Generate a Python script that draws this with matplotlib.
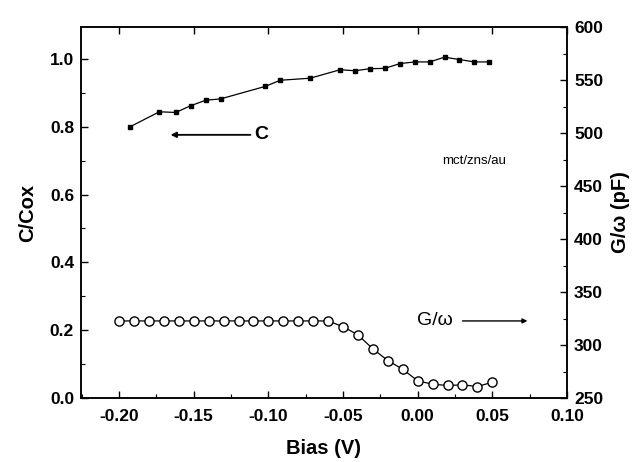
import matplotlib
matplotlib.use("Agg")
import matplotlib.pyplot as plt
from matplotlib.ticker import MultipleLocator, FormatStrFormatter

plt.rcParams['font.family'] = ['Liberation Sans', 'DejaVu Sans']
plt.rcParams['font.weight'] = 'bold'

# C/Cox data (filled squares, left axis)
bias_c = [-0.193, -0.173, -0.162, -0.152, -0.142, -0.132, -0.102, -0.092, -0.072,
          -0.052, -0.042, -0.032, -0.022, -0.012, -0.002, 0.008, 0.018, 0.028, 0.038, 0.048]
c_cox = [0.799, 0.844, 0.842, 0.862, 0.878, 0.882, 0.919, 0.937, 0.943,
         0.968, 0.965, 0.971, 0.972, 0.986, 0.991, 0.991, 1.005, 0.998, 0.991, 0.991]

# G/omega data (open circles, right axis, pF)
bias_g = [-0.20, -0.19, -0.18, -0.17, -0.16, -0.15, -0.14, -0.13, -0.12, -0.11, -0.10,
          -0.09, -0.08, -0.07, -0.06, -0.05, -0.04, -0.03, -0.02, -0.01, 0.00,
          0.01, 0.02, 0.03, 0.04, 0.05]
g_omega = [322.7, 322.7, 322.7, 322.7, 322.7, 322.7, 322.7, 322.7, 322.7, 322.7, 322.7,
           322.7, 322.7, 322.7, 322.7, 317.3, 309.5, 296.3, 285.3, 277.1, 266.2,
           263.0, 261.8, 262.4, 260.8, 264.9]

fig = plt.figure(figsize=(6.41, 4.62), dpi=100)
ax = fig.add_axes([81/641, 1 - 398/462, (567 - 81)/641, (398 - 27)/462])
ax2 = ax.twinx()

ax.plot(bias_c, c_cox, color='black', lw=0.9, marker='s', ms=3.2,
        mfc='black', mec='black')
ax2.plot(bias_g, g_omega, color='black', lw=0.9, marker='o', ms=6.6,
         mfc='white', mec='black', mew=1.0)

ax.set_xlim(-0.2255, 0.10)
ax.set_ylim(0.0, 1.094)
ax2.set_ylim(250, 600)

ax.xaxis.set_major_locator(MultipleLocator(0.05))
ax.xaxis.set_minor_locator(MultipleLocator(0.025))
ax.yaxis.set_major_locator(MultipleLocator(0.2))
ax.yaxis.set_minor_locator(MultipleLocator(0.1))
ax2.yaxis.set_major_locator(MultipleLocator(50))
ax2.yaxis.set_minor_locator(MultipleLocator(25))

ax.tick_params(axis='both', which='major', direction='in', length=5, width=1,
               labelsize=12.5, pad=5)
ax.tick_params(axis='x', which='major', pad=8)
ax.tick_params(axis='both', which='minor', direction='in', length=3, width=0.8)
ax.tick_params(axis='x', which='both', top=True)
ax.tick_params(axis='x', which='minor', top=False)
ax2.tick_params(axis='y', which='major', direction='in', length=5, width=1,
                labelsize=12.5, pad=5)
ax2.tick_params(axis='y', which='minor', direction='in', length=3, width=0.8)

ax.xaxis.set_major_formatter(FormatStrFormatter('%.2f'))
ax.yaxis.set_major_formatter(FormatStrFormatter('%.1f'))

for a in (ax, ax2):
    for s in a.spines.values():
        s.set_linewidth(1.1)

ax.set_xlabel('Bias (V)', fontsize=14.5, fontweight='bold', labelpad=11)
ax.set_ylabel('C/Cox', fontsize=14.5, fontweight='bold', labelpad=9)
ax2.set_ylabel('G/\u03c9 (pF)', fontsize=14.5, fontweight='bold', labelpad=6)

# annotations
ax.annotate('', xy=(-0.1655, 0.776), xytext=(-0.112, 0.776),
            arrowprops=dict(arrowstyle='-|>', color='black', lw=1.3,
                            mutation_scale=8, shrinkA=0, shrinkB=0))
ax.text(-0.1095, 0.776, 'C', fontsize=14, fontweight='heavy', va='center', ha='left')

ax2.annotate('', xy=(0.0735, 322.7), xytext=(0.030, 322.7),
             arrowprops=dict(arrowstyle='-|>', color='black', lw=1.0,
                             mutation_scale=7, shrinkA=0, shrinkB=0))
ax2.text(-0.0005, 322.7, 'G/\u03c9', fontsize=14, fontweight='normal', va='center', ha='left')

ax.text(0.0165, 0.70, 'mct/zns/au', fontsize=9.5, fontweight='normal', va='center', ha='left')

fig.savefig('out.png', dpi=100)
